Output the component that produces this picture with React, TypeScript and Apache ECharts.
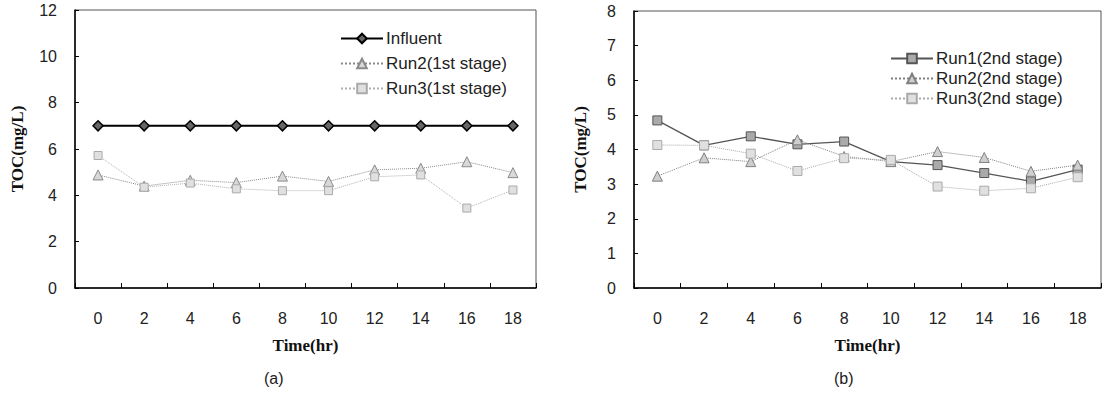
import React, { useEffect, useRef } from "react";
import * as echarts from "echarts";

const times = ["0", "2", "4", "6", "8", "10", "12", "14", "16", "18"];

const influent = [7, 7, 7, 7, 7, 7, 7, 7, 7, 7];
const run2First = [4.88, 4.4, 4.65, 4.55, 4.83, 4.6, 5.1, 5.17, 5.45, 4.98];
const run3First = [5.72, 4.35, 4.53, 4.28, 4.2, 4.2, 4.8, 4.88, 3.45, 4.23];

const run1Second = [4.84, 4.12, 4.38, 4.15, 4.23, 3.65, 3.55, 3.32, 3.08, 3.42];
const run2Second = [3.23, 3.76, 3.65, 4.28, 3.8, 3.65, 3.94, 3.77, 3.37, 3.55];
const run3Second = [4.13, 4.12, 3.88, 3.38, 3.75, 3.7, 2.93, 2.81, 2.88, 3.2];

const SANS = "'Liberation Sans', Arial, sans-serif";
const SERIF = "'Liberation Serif', 'Times New Roman', serif";

export default function App() {
  const ref = useRef<HTMLDivElement>(null);

  useEffect(() => {
    if (!ref.current) return;
    const chart = echarts.init(ref.current, null, { renderer: "svg" });

    const xAxisBase = (gridIndex: number) => ({
      type: "category" as const,
      gridIndex,
      data: times,
      boundaryGap: true,
      name: "Time(hr)",
      nameLocation: "middle" as const,
      nameGap: 49,
      nameTextStyle: { fontFamily: SERIF, fontWeight: "bold" as const, fontSize: 17, color: "#111" },
      axisLine: { show: true, lineStyle: { color: "#000", width: 1.5 } },
      axisTick: { show: true, inside: true, length: 5, lineStyle: { color: "#000", width: 1 } },
      axisLabel: { fontFamily: SANS, fontSize: 16, color: "#222", margin: 22 },
      splitLine: { show: false },
    });

    const yAxisBase = (gridIndex: number, max: number, interval: number, nameGap: number) => ({
      type: "value" as const,
      gridIndex,
      min: 0,
      max,
      interval,
      name: "TOC(mg/L)",
      nameLocation: "middle" as const,
      nameGap,
      nameTextStyle: { fontFamily: SERIF, fontWeight: "bold" as const, fontSize: 17, color: "#111" },
      axisLine: { show: true, lineStyle: { color: "#000", width: 1.5 } },
      axisTick: { show: true, inside: true, length: 4, lineStyle: { color: "#000", width: 1 } },
      axisLabel: { fontFamily: SANS, fontSize: 16, color: "#222", margin: 18 },
      splitLine: { show: false },
    });

    const option = {
      animation: false,
      backgroundColor: "#fff",
      grid: [
        { left: 75, top: 10, width: 461, height: 278, show: true, borderColor: "#555", borderWidth: 1 },
        { left: 634, top: 11, width: 467, height: 277, show: true, borderColor: "#555", borderWidth: 1 },
      ],
      xAxis: [xAxisBase(0), xAxisBase(1)],
      yAxis: [yAxisBase(0, 12, 2, 49), yAxisBase(1, 8, 1, 45)],
      legend: [
        {
          data: ["Influent", "Run2(1st stage)", "Run3(1st stage)"],
          orient: "vertical",
          left: 335,
          top: 25,
          itemWidth: 42,
          itemHeight: 12,
          itemGap: 8,
          textStyle: { fontFamily: SANS, fontSize: 17, color: "#222", padding: [0, 0, 0, -2] },
        },
        {
          data: ["Run1(2nd stage)", "Run2(2nd stage)", "Run3(2nd stage)"],
          orient: "vertical",
          left: 885,
          top: 45,
          itemWidth: 42,
          itemHeight: 12,
          itemGap: 3,
          textStyle: { fontFamily: SANS, fontSize: 17, color: "#222", padding: [0, 0, 0, -2] },
        },
      ],
      series: [
        {
          name: "Influent",
          type: "line",
          xAxisIndex: 0,
          yAxisIndex: 0,
          data: influent,
          symbol: "diamond",
          symbolSize: 10,
          lineStyle: { color: "#000", width: 2 },
          itemStyle: { color: "#666", borderColor: "#000", borderWidth: 1.5 },
        },
        {
          name: "Run2(1st stage)",
          type: "line",
          xAxisIndex: 0,
          yAxisIndex: 0,
          data: run2First,
          symbol: "triangle",
          symbolSize: 10,
          lineStyle: { color: "#8a8a8a", width: 1, type: "dotted" },
          itemStyle: { color: "#d8d8d8", borderColor: "#8a8a8a", borderWidth: 1 },
        },
        {
          name: "Run3(1st stage)",
          type: "line",
          xAxisIndex: 0,
          yAxisIndex: 0,
          data: run3First,
          symbol: "rect",
          symbolSize: 8,
          lineStyle: { color: "#b0b0b0", width: 1, type: "dotted" },
          itemStyle: { color: "#e0e0e0", borderColor: "#aaa", borderWidth: 1 },
        },
        {
          name: "Run1(2nd stage)",
          type: "line",
          xAxisIndex: 1,
          yAxisIndex: 1,
          data: run1Second,
          symbol: "rect",
          symbolSize: 9,
          lineStyle: { color: "#555", width: 1.3 },
          itemStyle: { color: "#aaa", borderColor: "#555", borderWidth: 1 },
        },
        {
          name: "Run2(2nd stage)",
          type: "line",
          xAxisIndex: 1,
          yAxisIndex: 1,
          data: run2Second,
          symbol: "triangle",
          symbolSize: 10,
          lineStyle: { color: "#808080", width: 1, type: "dotted" },
          itemStyle: { color: "#cfcfcf", borderColor: "#808080", borderWidth: 1 },
        },
        {
          name: "Run3(2nd stage)",
          type: "line",
          xAxisIndex: 1,
          yAxisIndex: 1,
          data: run3Second,
          symbol: "rect",
          symbolSize: 9,
          lineStyle: { color: "#aaa", width: 1, type: "dotted" },
          itemStyle: { color: "#e0e0e0", borderColor: "#aaa", borderWidth: 1 },
        },
      ],
      graphic: [
        {
          type: "text",
          left: 264,
          top: 370,
          style: { text: "(a)", font: `16px ${SANS}`, fill: "#222" },
        },
        {
          type: "text",
          left: 834,
          top: 370,
          style: { text: "(b)", font: `16px ${SANS}`, fill: "#222" },
        },
      ],
    };

    chart.setOption(option as any);
    return () => chart.dispose();
  }, []);

  return (
    <div
      ref={ref}
      style={{ position: "fixed", left: 0, top: 0, width: 1106, height: 397, background: "#fff" }}
    />
  );
}
